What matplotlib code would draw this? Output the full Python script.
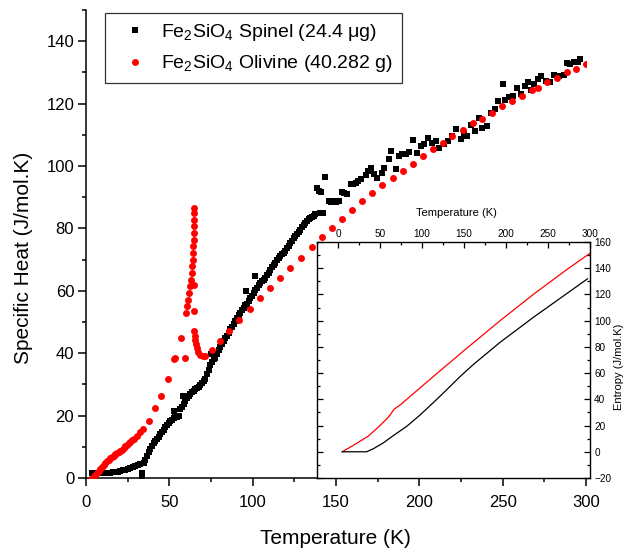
import matplotlib
matplotlib.use("Agg")
import matplotlib.pyplot as plt
from matplotlib.ticker import MultipleLocator

plt.rcParams['font.family'] = ['Liberation Sans', 'DejaVu Sans']
plt.rcParams['mathtext.fontset'] = 'custom'
plt.rcParams['mathtext.rm'] = 'Liberation Sans'
plt.rcParams['mathtext.it'] = 'Liberation Sans:italic'
plt.rcParams['mathtext.bf'] = 'Liberation Sans:bold'

# ---------------- data: specific heat ----------------
spinel_T = [3.5, 4.5, 5.5, 6.5, 7.5, 8.5, 10, 11.5, 13, 14.5, 16, 17.5, 19, 20.5, 22, 23.5,
            25, 26.5, 28, 29.5, 31, 32.5, 33.5, 33.8,
            34.5, 35.5, 36.5, 37.5, 38.5, 39.5, 40.5, 41.5, 42.5, 43.5, 44.5, 45.5, 46.5,
            47.5, 48.5, 49.5, 50.5, 51.5, 52.5, 53.5, 54.5, 55.5, 52.9, 56.5, 57.5, 58.1,
            58.5, 59.5, 60.5, 61.5, 62.5, 63.5, 64.5, 65.5, 66.5, 67.5, 68.5, 69.5, 70.5,
            71.5, 72.5, 73.5, 74.5, 75.0, 75.5, 76.5, 77.5, 78.5, 79.5, 80.5, 81.5, 82.5,
            83.5, 84.5, 85.5, 86.5, 87.5, 88.5, 89.5, 90.5, 91.5, 92.5, 93.5, 94.5, 95.5,
            96.2, 96.5, 97.5, 98.5, 99.5, 100.5, 101.5, 101.5, 102.5, 103.5, 104.5, 105.5,
            106.5, 107.5, 108.5, 109.5, 110.5, 111.5, 112.5, 113.5, 114.5, 115.5, 116.5,
            117.5, 118.5, 119.5, 120.5, 121.5, 122.5, 123.5, 124.5, 125.5, 126.5, 127.5,
            128.5, 129.5, 130.5, 131.5, 132.5, 133.5, 134.5, 135.5, 136.5, 137.5, 138.7,
            139.7, 140.7, 140.5, 142.2, 143.1, 145.7, 147.2, 148.7, 150.2, 151.7, 153.7,
            155.0, 156.5, 158.7, 160.2, 161.7, 163.2, 164.7, 167.7, 169.2, 170.7, 172.8,
            174.8, 177.8, 178.8, 181.7, 182.8, 185.8, 187.8, 189.8, 191.8, 193.8, 196.4,
            198.8, 200.8, 202.8, 205.4, 207.7, 209.7, 211.8, 214.5, 216.9, 219.8, 222.2,
            224.8, 226.8, 228.8, 231.2, 233.3, 235.5, 237.8, 240.5, 242.9, 245.3, 247.3,
            249.9, 251.5, 253.9, 256.3, 258.5, 260.9, 263.3, 264.9, 266.9, 268.9, 270.9,
            272.9, 275.9, 278.5, 280.9, 284.0, 286.9, 288.6, 290.6, 293.0, 295.0, 296.6]
spinel_Cp = [1.5, 1.6, 1.5, 1.6, 1.5, 1.5, 1.6, 1.5, 1.6, 1.7, 1.8, 1.9, 2.0, 2.2, 2.5, 2.7,
             3.0, 3.3, 3.6, 3.9, 4.2, 4.6, 1.5, 0.6,
             4.8, 5.8, 7.0, 8.2, 9.3, 10.3, 11.1, 11.8, 12.5, 13.3, 14.0, 14.7, 15.4,
             16.2, 16.9, 17.6, 18.2, 18.7, 19.2, 19.5, 19.6, 19.9, 21.6, 22.0, 22.9, 26.3,
             23.8, 24.8, 25.5, 26.3, 27.0, 27.7, 28.0, 28.4, 28.9, 29.3, 29.8, 30.4, 31.0,
             31.8, 33.2, 34.7, 36.2, 39.8, 37.2, 38.0, 38.6, 39.6, 41.0, 42.0, 42.8, 44.0,
             44.9, 45.6, 46.4, 47.6, 48.3, 49.2, 50.3, 51.4, 52.2, 53.0, 53.9, 54.6, 55.3,
             59.8, 55.8, 56.8, 57.6, 58.4, 59.3, 64.6, 60.2, 61.0, 61.8, 62.5, 63.0,
             63.6, 64.2, 65.0, 65.8, 66.8, 67.5, 68.2, 68.9, 69.8, 70.5, 71.1,
             71.8, 72.2, 72.7, 73.6, 74.5, 75.4, 76.1, 76.8, 77.5, 78.2, 78.9,
             79.6, 80.3, 81.0, 81.8, 82.4, 82.9, 83.4, 83.7, 84.1, 84.5, 93.0,
             91.9, 91.6, 84.8, 85.0, 96.4, 88.8, 88.6, 88.8, 88.5, 88.8, 91.6,
             91.2, 90.9, 94.1, 94.3, 94.6, 95.2, 95.7, 97.0, 98.3, 99.5, 97.5,
             96.3, 97.9, 99.5, 102.1, 104.8, 98.9, 103.2, 103.7, 103.7, 104.6, 108.2,
             104.2, 106.5, 107.0, 109.1, 107.5, 108.1, 105.9, 107.0, 108.1, 109.6, 111.8,
             108.6, 110.2, 109.6, 113.0, 111.3, 115.5, 112.3, 112.8, 117.1, 118.4, 120.9,
             126.2, 121.2, 122.0, 122.5, 124.9, 123.0, 125.7, 127.0, 124.4, 126.2, 127.8,
             128.9, 127.3, 127.0, 129.1, 128.9, 129.1, 132.9, 132.6, 133.2, 133.4, 134.3]

olivine_T = [3.4, 4.5, 5.5, 6.5, 7.5, 8.5, 9.5, 10.5, 11.5, 12.5, 13.5, 14.5, 15.5, 16.5,
             17.5, 18.5, 19.5, 20.5, 21.5, 22.5, 23.5, 24.5, 25.5, 26.5, 27.5, 28.5, 30.5,
             32.5, 34.1, 37.5, 41.1, 45.1, 49.1, 52.5, 53.3, 56.7, 59.1,
             59.9, 60.5, 61.1, 61.9, 62.5, 62.9, 63.5, 63.7, 63.9, 64.1, 64.3, 64.5, 64.5,
             64.5, 64.5, 64.5, 64.5,
             64.6, 64.6, 65.0, 65.3, 65.5, 66.0, 66.5, 67.3, 68.5, 70.0, 71.5,
             75.5, 80.6, 86.0, 92.0, 98.5, 104.5, 110.6, 116.6, 122.6, 129.0, 135.5, 141.7,
             147.7, 153.7, 159.7, 165.7, 171.7, 177.8, 184.2, 190.2, 196.2, 202.2, 208.2,
             214.2, 219.8, 225.9, 231.9, 237.5, 243.5, 249.5, 255.5, 261.3, 267.3, 270.9,
             276.6, 282.6, 288.4, 294.2, 300.0]
olivine_Cp = [0.0, 0.4, 0.9, 1.5, 2.3, 3.0, 3.6, 4.2, 4.8, 5.3, 5.8, 6.3, 6.8, 7.2,
              7.6, 7.9, 8.2, 8.5, 9.0, 9.5, 10.1, 10.6, 11.1, 11.6, 12.1, 12.6, 13.5,
              14.6, 15.6, 18.4, 22.4, 26.4, 31.8, 38.1, 38.6, 44.9, 38.6,
              52.9, 55.0, 57.1, 59.3, 61.4, 63.5, 65.7, 67.8, 70.0, 72.1, 74.3, 76.4, 78.5,
              80.7, 82.8, 85.0, 86.6,
              62.0, 53.4, 47.0, 45.5, 44.3, 42.8, 41.6, 40.3, 39.5, 39.2, 39.2,
              41.1, 43.8, 47.0, 50.8, 54.3, 57.7, 61.0, 64.1, 67.3, 70.6, 74.0, 77.2,
              80.1, 82.9, 85.9, 88.8, 91.2, 93.8, 96.0, 98.5, 100.8, 103.2, 105.3,
              107.5, 109.6, 111.5, 113.7, 115.0, 117.0, 119.1, 120.9, 122.5, 124.2, 124.9,
              126.8, 128.1, 130.0, 131.1, 132.6]

# ---------------- data: entropy (inset) ----------------
S_olivine_T = [5, 18, 36, 50, 60, 67, 74, 113.5, 153, 193, 232.5, 272, 300]
S_olivine = [0, 4.8, 11.9, 20, 26.4, 32.6, 35.7, 57.4, 78.8, 100.0, 120.0, 138.8, 151.4]
S_spinel_T = [5, 34, 42, 54, 66, 82, 97.6, 113.5, 129.4, 145.2, 161, 193, 232.5, 272, 297]
S_spinel = [0, 0, 2.3, 6.8, 12.4, 19.5, 28.0, 37.5, 47.3, 57.3, 66.5, 83.5, 102.5, 120.5, 131.9]

label_spinel = 'Fe$_2$SiO$_4$ Spinel (24.4 μg)'
label_olivine = 'Fe$_2$SiO$_4$ Olivine (40.282 g)'

W, H = 628, 551
fig = plt.figure(figsize=(W / 100, H / 100), dpi=100)

ax = fig.add_axes([86 / W, 73 / H, 500 / W, 468 / H])
ax.plot(spinel_T, spinel_Cp, 's', color='black', ms=4.5, mec='black', mew=0,
        label=label_spinel, zorder=3)
ax.plot(olivine_T, olivine_Cp, 'o', color='#ff0000', ms=5.0, mew=0,
        label=label_olivine, zorder=4)
ax.set_xlim(0, 300)
ax.set_ylim(0, 150)
ax.spines['top'].set_visible(False)
ax.spines['right'].set_visible(False)
for s in ('left', 'bottom'):
    ax.spines[s].set_linewidth(1.1)
ax.xaxis.set_major_locator(MultipleLocator(50))
ax.xaxis.set_minor_locator(MultipleLocator(25))
ax.yaxis.set_major_locator(MultipleLocator(20))
ax.yaxis.set_minor_locator(MultipleLocator(10))
ax.tick_params(which='major', direction='out', length=5.5, width=1.1, labelsize=12)
ax.tick_params(which='minor', direction='out', length=3, width=1.1)
ax.tick_params(axis='x', which='major', pad=7)
ax.tick_params(axis='y', which='major', pad=3)

leg = ax.legend(loc='upper left', bbox_to_anchor=(105 / W, 1 - 13 / H),
                bbox_transform=fig.transFigure, fontsize=14, frameon=True,
                fancybox=False, edgecolor='black', borderpad=0.45,
                handlelength=2.15, handletextpad=0.3, labelspacing=0.55,
                borderaxespad=0, markerscale=1.0)
leg.get_frame().set_linewidth(0.9)

fig.text(335 / W, 1 - 538 / H, 'Temperature (K)', ha='center', va='center', fontsize=15)
fig.text(24 / W, 1 - 258 / H, 'Specific Heat (J/mol.K)', ha='center', va='center',
         rotation=90, fontsize=15)

# ---------------- inset ----------------
ins = fig.add_axes([317 / W, 73 / H, 273 / W, 236 / H])
ins.set_facecolor('white')
ins.plot(S_olivine_T, S_olivine, '-', color='#ff0000', lw=0.9)
ins.plot(S_spinel_T, S_spinel, '-', color='black', lw=0.9)
ins.set_xlim(-25, 300)
ins.set_ylim(-20, 160)
for s in ins.spines.values():
    s.set_linewidth(1.0)
ins.xaxis.set_major_locator(MultipleLocator(50))
ins.xaxis.set_minor_locator(MultipleLocator(25))
ins.yaxis.set_major_locator(MultipleLocator(20))
ins.yaxis.set_minor_locator(MultipleLocator(10))
ins.xaxis.tick_top()
ins.yaxis.tick_right()
ins.tick_params(which='both', direction='in', top=True, right=True, left=True,
                bottom=False, labelsize=7.2, width=0.9)
ins.tick_params(which='major', length=4)
ins.tick_params(which='minor', length=2.5)
ins.tick_params(axis='x', pad=2)
ins.tick_params(axis='y', pad=3)
ins.tick_params(labelleft=False, labelbottom=False, labeltop=True, labelright=True)
ins.set_xticks([0, 50, 100, 150, 200, 250, 300])

fig.text(456 / W, 1 - 213 / H, 'Temperature (K)', ha='center', va='center', fontsize=8)
fig.text(619 / W, 1 - 367 / H, 'Entropy (J/mol.K)', ha='center', va='center',
         rotation=90, fontsize=8)

fig.savefig('out.png', dpi=100)
